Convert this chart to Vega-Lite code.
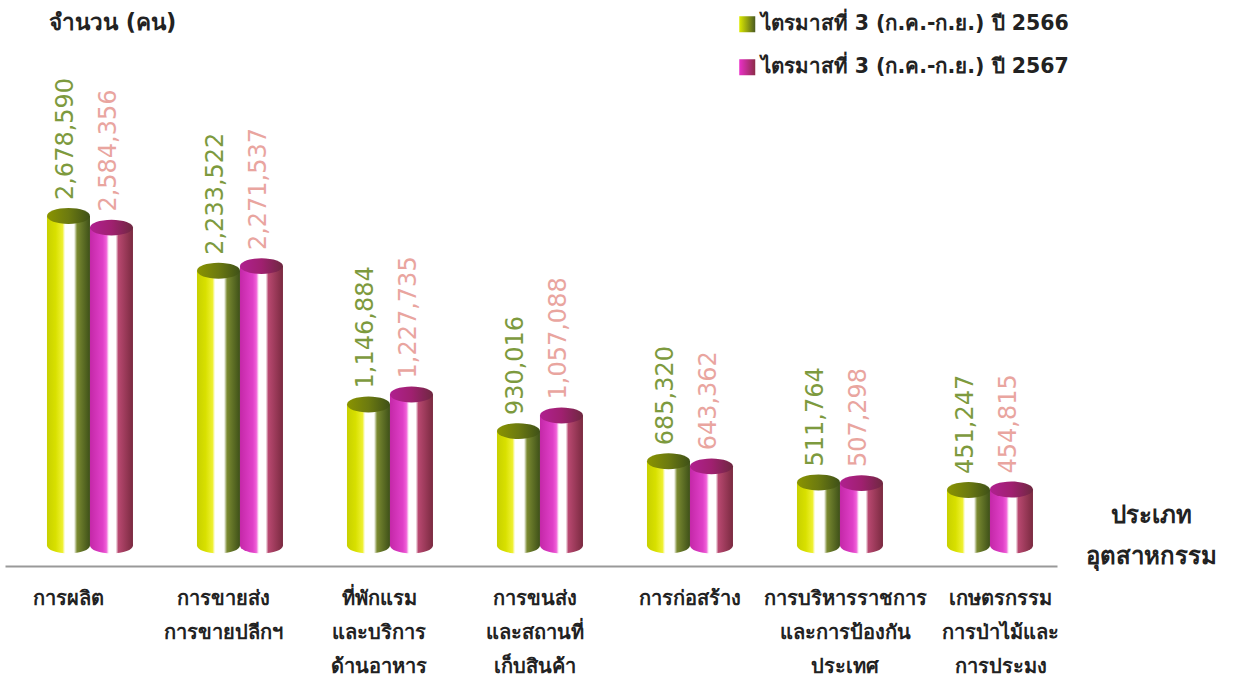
{
"$schema":"https://vega.github.io/schema/vega-lite/v6.json",
"width":1235,"height":681,"autosize":{"type":"none"},"padding":0,"background":"white",
"config":{"view":{"stroke":null},"font":"DejaVu Sans"},
"data":{"values":[
{"c":"การผลิต","s":"2566","v":2678590,"t":"2,678,590"},{"c":"การผลิต","s":"2567","v":2584356,"t":"2,584,356"},
{"c":"การขายส่ง|การขายปลีกฯ","s":"2566","v":2233522,"t":"2,233,522"},{"c":"การขายส่ง|การขายปลีกฯ","s":"2567","v":2271537,"t":"2,271,537"},
{"c":"ที่พักแรม|และบริการ|ด้านอาหาร","s":"2566","v":1146884,"t":"1,146,884"},{"c":"ที่พักแรม|และบริการ|ด้านอาหาร","s":"2567","v":1227735,"t":"1,227,735"},
{"c":"การขนส่ง|และสถานที่|เก็บสินค้า","s":"2566","v":930016,"t":"930,016"},{"c":"การขนส่ง|และสถานที่|เก็บสินค้า","s":"2567","v":1057088,"t":"1,057,088"},
{"c":"การก่อสร้าง","s":"2566","v":685320,"t":"685,320"},{"c":"การก่อสร้าง","s":"2567","v":643362,"t":"643,362"},
{"c":"การบริหารราชการ|และการป้องกัน|ประเทศ","s":"2566","v":511764,"t":"511,764"},{"c":"การบริหารราชการ|และการป้องกัน|ประเทศ","s":"2567","v":507298,"t":"507,298"},
{"c":"เกษตรกรรม|การป่าไม้และ|การประมง","s":"2566","v":451247,"t":"451,247"},{"c":"เกษตรกรรม|การป่าไม้และ|การประมง","s":"2567","v":454815,"t":"454,815"}
]},
"resolve":{"scale":{"x":"independent"},"axis":{"x":"independent"}},
"layer":[
{"encoding":{
"x":{"field":"c","type":"nominal","sort":null,"scale":{"range":[5,1057],"paddingInner":0.4267,"paddingOuter":0.22,"align":0.636},
 "axis":{"orient":"bottom","title":["ประเภท","อุตสาหกรรม"],"titleX":1151,"titleY":-63,"titleFontSize":24,"titleFontWeight":"bold","titleColor":"#222","titleLineHeight":41,"titleAngle":0,"offset":-115,"domainColor":"#999","domainWidth":2,"ticks":false,"labels":false}},
"xOffset":{"field":"s","type":"nominal","scale":{"domain":["2566","2567"]}},
"y":{"field":"v","type":"quantitative","scale":{"domain":[0,4000000],"range":[545.5,53.5]},
 "axis":{"title":"จำนวน (คน)","titleX":112,"titleY":34,"titleAngle":0,"titleFontSize":22.5,"titleFontWeight":"bold","titleColor":"#222","labels":false,"ticks":false,"domain":false,"grid":false}}
},
"layer":[
{"mark":{"type":"point","opacity":0,"filled":true},"encoding":{"stroke":{"field":"s","type":"nominal","scale":{"domain":["2566","2567"],"range":["#c8d400","#d030b0"]},
 "legend":{"orient":"none","legendX":737,"legendY":14,"title":null,"symbolType":"square","symbolSize":256,"symbolStrokeWidth":0,"labelFontSize":20.5,"labelFontWeight":"bold","labelColor":"#222","labelLimit":500,"rowPadding":22,"labelOffset":3,"labelExpr":"'ไตรมาสที่ 3 (ก.ค.-ก.ย.) ปี ' + datum.label",
 "encoding":{"symbols":{"opacity":{"value":1},"fill":{"condition":{"test":"datum.value=='2566'","value":{"gradient":"linear","x1":0,"x2":1,"y1":0,"y2":0,"stops":[{"offset":0,"color":"#dcea00"},{"offset":1,"color":"#4a5a20"}]}},"value":{"gradient":"linear","x1":0,"x2":1,"y1":0,"y2":0,"stops":[{"offset":0,"color":"#ea30c8"},{"offset":1,"color":"#8c2c48"}]}}}}}}}},
{"transform":[{"filter":"datum.s=='2566'"}],"layer":[
 {"mark":{"type":"point","filled":true,"opacity":1,"size":1849,"shape":"M-1,0A1,0.37,0,1,1,1,0A1,0.37,0,1,1,-1,0Z","color":{"gradient":"linear","x1":0,"x2":1,"y1":0,"y2":0,"stops":[{"offset":0,"color":"#c8d000"},{"offset":0.2,"color":"#d8e000"},{"offset":0.36,"color":"#eef030"},{"offset":0.42,"color":"#ffffff"},{"offset":0.63,"color":"#ffffff"},{"offset":0.7,"color":"#7a8a30"},{"offset":1,"color":"#3e5018"}]}},"encoding":{"y":{"datum":0,"type":"quantitative"}}},
 {"mark":{"type":"bar","color":{"gradient":"linear","x1":0,"x2":1,"y1":0,"y2":0,"stops":[{"offset":0,"color":"#c8d000"},{"offset":0.2,"color":"#d8e000"},{"offset":0.36,"color":"#eef030"},{"offset":0.42,"color":"#ffffff"},{"offset":0.63,"color":"#ffffff"},{"offset":0.7,"color":"#7a8a30"},{"offset":1,"color":"#3e5018"}]}}},
 {"mark":{"type":"point","filled":true,"opacity":1,"size":1849,"shape":"M-1,0A1,0.37,0,1,1,1,0A1,0.37,0,1,1,-1,0Z","color":{"gradient":"linear","x1":0,"x2":1,"y1":0,"y2":0,"stops":[{"offset":0,"color":"#8a9400"},{"offset":0.5,"color":"#6c7a10"},{"offset":1,"color":"#3e5018"}]}}},
 {"mark":{"type":"text","angle":270,"align":"left","baseline":"middle","dx":16,"dy":-2,"fontSize":24,"color":"#7d9a3e"},"encoding":{"text":{"field":"t"}}}
]},
{"transform":[{"filter":"datum.s=='2567'"}],"layer":[
 {"mark":{"type":"point","filled":true,"opacity":1,"size":1849,"shape":"M-1,0A1,0.37,0,1,1,1,0A1,0.37,0,1,1,-1,0Z","color":{"gradient":"linear","x1":0,"x2":1,"y1":0,"y2":0,"stops":[{"offset":0,"color":"#c428a8"},{"offset":0.3,"color":"#e040c8"},{"offset":0.38,"color":"#f060d8"},{"offset":0.44,"color":"#ffffff"},{"offset":0.6,"color":"#ffffff"},{"offset":0.66,"color":"#b84870"},{"offset":1,"color":"#7a2a40"}]}},"encoding":{"y":{"datum":0,"type":"quantitative"}}},
 {"mark":{"type":"bar","color":{"gradient":"linear","x1":0,"x2":1,"y1":0,"y2":0,"stops":[{"offset":0,"color":"#c428a8"},{"offset":0.3,"color":"#e040c8"},{"offset":0.38,"color":"#f060d8"},{"offset":0.44,"color":"#ffffff"},{"offset":0.6,"color":"#ffffff"},{"offset":0.66,"color":"#b84870"},{"offset":1,"color":"#7a2a40"}]}}},
 {"mark":{"type":"point","filled":true,"opacity":1,"size":1849,"shape":"M-1,0A1,0.37,0,1,1,1,0A1,0.37,0,1,1,-1,0Z","color":{"gradient":"linear","x1":0,"x2":1,"y1":0,"y2":0,"stops":[{"offset":0,"color":"#b02090"},{"offset":0.5,"color":"#a02070"},{"offset":1,"color":"#6e2840"}]}}},
 {"mark":{"type":"text","angle":270,"align":"left","baseline":"middle","dx":16,"dy":-2,"fontSize":24,"color":"#e9a59f"},"encoding":{"text":{"field":"t"}}}
]}
]},
{"mark":{"type":"point","opacity":0},"encoding":{
"x":{"field":"c","type":"nominal","sort":null,"scale":{"range":[-9.7,1077.7],"paddingInner":0,"paddingOuter":0},
 "axis":{"orient":"bottom","title":null,"offset":-115,"domain":false,"ticks":false,"labelAngle":0,"labelAlign":"center","labelBaseline":"top","labelPadding":22,"labelFontSize":20,"labelFontWeight":"bold","labelColor":"#222","labelLineHeight":34,"labelOverlap":false,"labelBound":false,"labelFlush":false,"labelExpr":"split(datum.label,'|')"}}
}}
]
}
